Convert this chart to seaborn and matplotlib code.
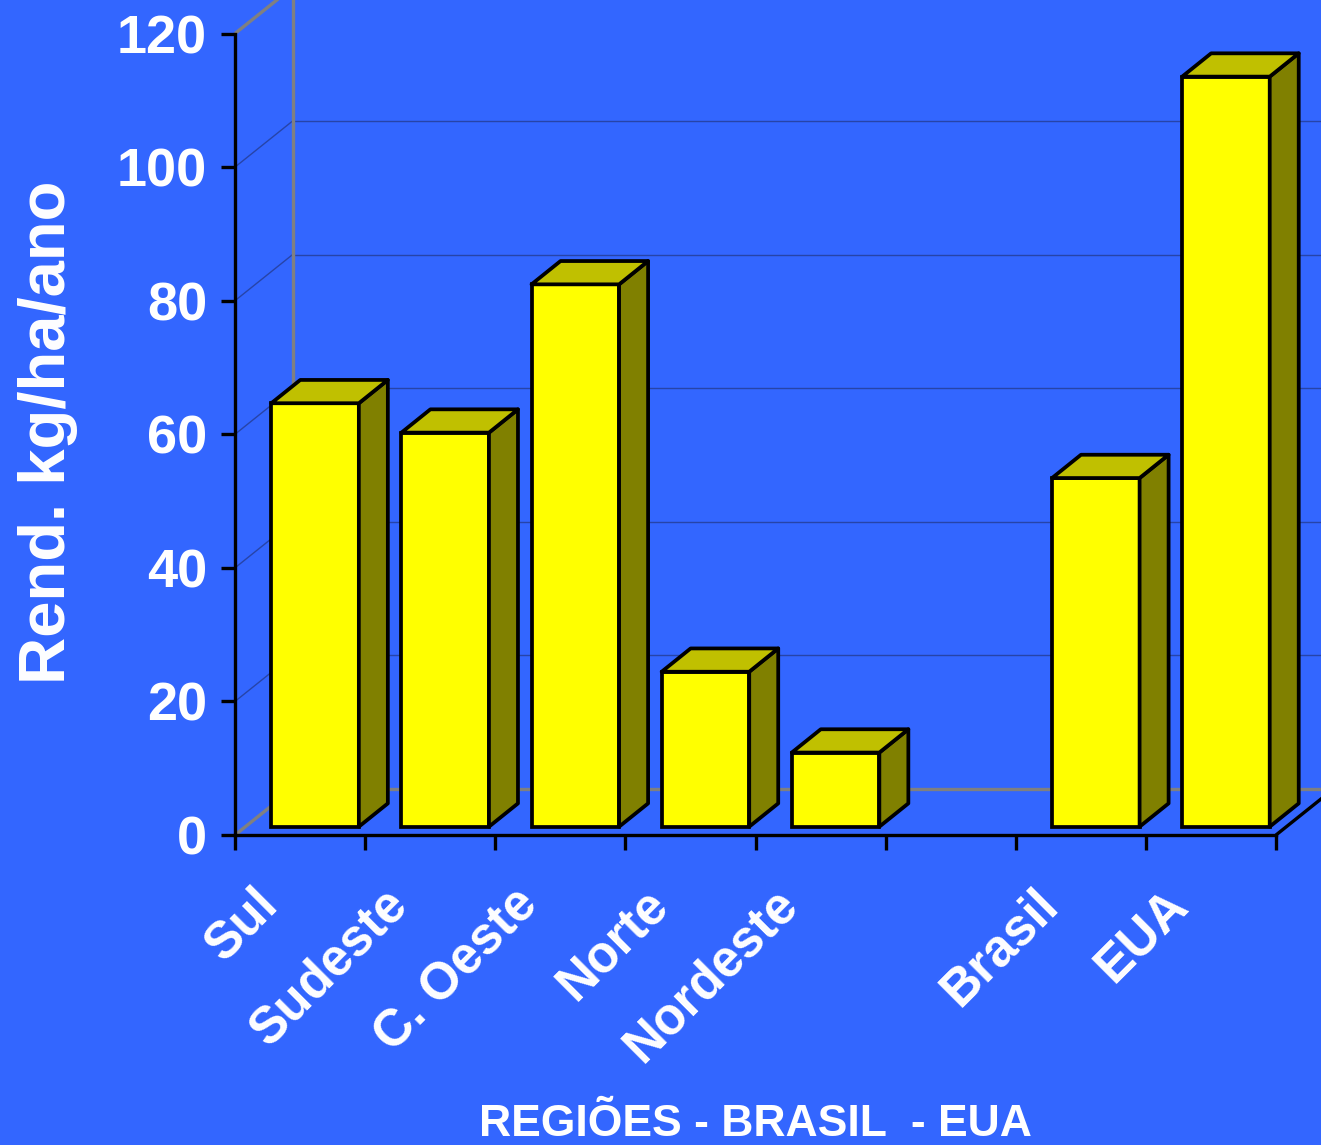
import numpy as np
import pandas as pd
import matplotlib
matplotlib.use("Agg")
import matplotlib.pyplot as plt
import seaborn as sns
from matplotlib.transforms import Affine2D, IdentityTransform
from matplotlib.patches import Polygon
from matplotlib.lines import Line2D

# ---- data ----
categories = ["Sul", "Sudeste", "C. Oeste", "Norte", "Nordeste", " ", "Brasil", "EUA"]
values = [63.4, 59.0, 81.2, 23.2, 11.1, np.nan, 52.2, 112.3]
yticks = [0, 20, 40, 60, 80, 100, 120]
ylabel = "Rend. kg/ha/ano"
xtitle = "REGIÕES - BRASIL  - EUA"

# ---- style ----
sns.set_theme(style="white")
plt.rcParams["font.family"] = ["Liberation Sans", "DejaVu Sans"]
plt.rcParams["font.weight"] = "bold"

BG = "#3366FF"
FRONT = "#FFFF00"
SIDE = "#808000"
TOP = "#C0C000"
GRID = "#2744a8"
GREY = "#808080"
LW = 2.7

W, H = 1321, 1145
fig = plt.figure(figsize=(W / 100, H / 100), dpi=100)
fig.patch.set_facecolor(BG)
ax = fig.add_axes([235 / W, (H - 835) / H, (1276 - 235) / W, (835 - 33.5) / H])
ax.set_facecolor("none")

df = pd.DataFrame({"cat": categories, "val": values})
sns.barplot(data=df, x="cat", y="val", order=categories, color=FRONT, saturation=1,
            width=0.673, edgecolor="black", linewidth=LW, ax=ax, zorder=3)

ax.set_xlim(-0.5, len(categories) - 0.5)
ax.set_ylim(0, 120)
ax.autoscale(False)

# spines
for s in ["top", "right"]:
    ax.spines[s].set_visible(False)
for s in ["left", "bottom"]:
    ax.spines[s].set_color("black")
    ax.spines[s].set_linewidth(2.4)
    ax.spines[s].set_zorder(4)

# y ticks
ax.set_yticks(yticks)
ax.set_yticklabels([str(v) for v in yticks])
ax.tick_params(axis="y", length=10, width=2.4, pad=10, labelsize=39,
               labelcolor="white", color="black", direction="out", left=True)
ax.set_ylabel("")
ax.set_xlabel("")

# x ticks: marks at category boundaries, labels drawn rotated
ax.set_xticks(np.arange(len(categories)))
ax.set_xticklabels([""] * len(categories))
ax.set_xticks(np.arange(-0.5, len(categories), 1), minor=True)
ax.tick_params(axis="x", which="major", length=0)
ax.tick_params(axis="x", which="minor", length=11, width=2.4, color="black",
               direction="out", bottom=True)

lab_trans = ax.get_xaxis_transform() + Affine2D().translate(-30, -62)
for i, c in enumerate(categories):
    ax.text(i, 0, c, transform=lab_trans, rotation=45, rotation_mode="anchor",
            ha="right", va="center", fontsize=37, color="white", fontweight="bold")

# ---- 3D decorations ----
WX, WY = 57.5, 46.0      # back wall offset (pixels)
BX, BY = 15, 8.3         # bar front-face offset
DX, DY = 29, 23.3        # bar depth

idt = IdentityTransform()
td = ax.transData


def disp(x, y):
    return td.transform((x, y))


x0, x1 = -0.5, len(categories) - 0.5


def seg(p, q, color, lw, z):
    ln = Line2D([p[0], q[0]], [p[1], q[1]], transform=idt, color=color, lw=lw,
                zorder=z, clip_on=False, solid_capstyle="butt")
    ax.add_line(ln)


# back wall gridlines & side wall diagonals
for v in yticks[1:]:
    a = disp(x0, v)
    b = disp(x1, v)
    seg(a + (WX, WY), b + (WX, WY), GRID, 1.0, 1)
    if v < 120:
        seg(a, a + (WX, WY), GRID, 1.0, 1)

# grey edges of the wall/floor
fl = disp(x0, 0)
fr = disp(x1, 0)
tl = disp(x0, 120)
seg(fl + (WX, WY), fr + (WX, WY), GREY, 2.4, 1.5)
seg(fl + (WX, WY), tl + (WX, WY) + (0, 40), GREY, 2.4, 1.5)
seg(fl, fl + (WX, WY), GREY, 2.4, 1.5)
seg(tl, tl + (WX, WY), GREY, 2.4, 1.5)
# right floor edge
seg(fr, fr + (WX, WY), "black", 2.4, 4)

# bars: shift front faces, add side and top faces
shift = Affine2D().translate(BX, BY)
for p in list(ax.patches):
    h = p.get_height()
    if not np.isfinite(h) or h == 0:
        continue
    p.set_transform(td + shift)
    bx0, bw = p.get_x(), p.get_width()
    t = td + shift
    rb = t.transform((bx0 + bw, 0))
    rt = t.transform((bx0 + bw, h))
    lt = t.transform((bx0, h))
    side = Polygon([rb, rb + (DX, DY), rt + (DX, DY), rt], closed=True,
                   transform=idt, facecolor=SIDE, edgecolor="black", lw=LW,
                   joinstyle="round", zorder=3, clip_on=False)
    top = Polygon([lt, rt, rt + (DX, DY), lt + (DX, DY)], closed=True,
                  transform=idt, facecolor=TOP, edgecolor="black", lw=LW,
                  joinstyle="round", zorder=3, clip_on=False)
    ax.add_artist(side)
    ax.add_artist(top)
    p.set_joinstyle("miter")

# titles
fig.text(48 / W, 1 - 432 / H, ylabel, rotation=90, ha="center", va="center",
         fontsize=47, color="white", fontweight="bold")
fig.text((235 + 1276) / 2 / W, 9 / H, xtitle, ha="center", va="baseline",
         fontsize=32, color="white", fontweight="bold")

fig.savefig("out.png", dpi=100, facecolor=BG)
